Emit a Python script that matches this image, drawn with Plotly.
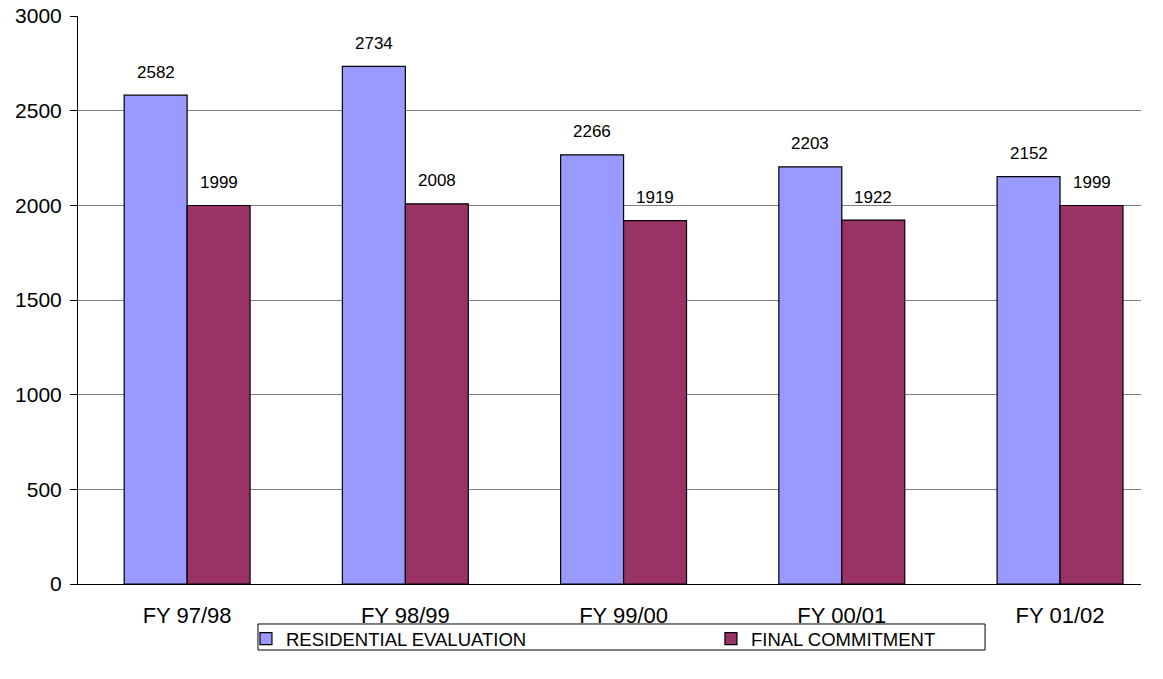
import plotly.graph_objects as go

categories = ["FY 97/98", "FY 98/99", "FY 99/00", "FY 00/01", "FY 01/02"]
residential = [2582, 2734, 2266, 2203, 2152]
final_commitment = [1999, 2008, 1919, 1922, 1999]
series_names = ["RESIDENTIAL EVALUATION", "FINAL COMMITMENT"]
colors = ["#9999FF", "#993366"]

FONT = "Arial, Liberation Sans, sans-serif"
bargap = 0.423

fig = go.Figure()
for name, vals, col in zip(series_names, [residential, final_commitment], colors):
    fig.add_trace(go.Bar(
        name=name, x=categories, y=vals,
        marker=dict(color=col, line=dict(color="black", width=1.2)),
    ))

# value labels above bars
bw = (1 - bargap) / 2
for si, vals in enumerate([residential, final_commitment]):
    off = (si - 0.5) * bw
    for i, v in enumerate(vals):
        fig.add_annotation(x=i + off, y=v, xref="x", yref="y", text=str(v),
                           showarrow=False, yshift=23,
                           font=dict(family=FONT, size=17, color="black"))

fig.add_shape(type="rect", xref="paper", yref="paper",
              x0=0.1693, x1=0.8533, y0=-0.1162, y1=-0.0704,
              line=dict(color="black", width=1), fillcolor="rgba(0,0,0,0)")

fig.update_layout(
    width=1163, height=679,
    margin=dict(l=78, r=22, t=16, b=95, autoexpand=False),
    plot_bgcolor="white", paper_bgcolor="white",
    barmode="group", bargap=bargap, bargroupgap=0,
    font=dict(family=FONT, size=21, color="black"),
    showlegend=True,
    legend=dict(orientation="h", x=0.158, y=-0.0634, xanchor="left", yanchor="top",
                font=dict(family=FONT, size=18.5), entrywidth=420,
                itemwidth=30, bgcolor="rgba(0,0,0,0)", traceorder="normal"),
    xaxis=dict(showline=True, linecolor="black", linewidth=1, ticks="",
               range=[-0.5, 4.371],
               ticklabelstandoff=12, tickfont=dict(size=22)),
    yaxis=dict(range=[0, 3000], dtick=500, showline=True, linecolor="black", linewidth=1,
               ticks="outside", ticklen=7, tickcolor="black",
               showgrid=True, gridcolor="#808080", gridwidth=1,
               zeroline=False, tickfont=dict(size=21), ticklabelstandoff=4,
               ticklabeloverflow="allow"),
)

fig.write_html("out.html", config={"displayModeBar": False},
               post_script="document.body.style.margin='0';document.body.style.overflow='hidden';")
